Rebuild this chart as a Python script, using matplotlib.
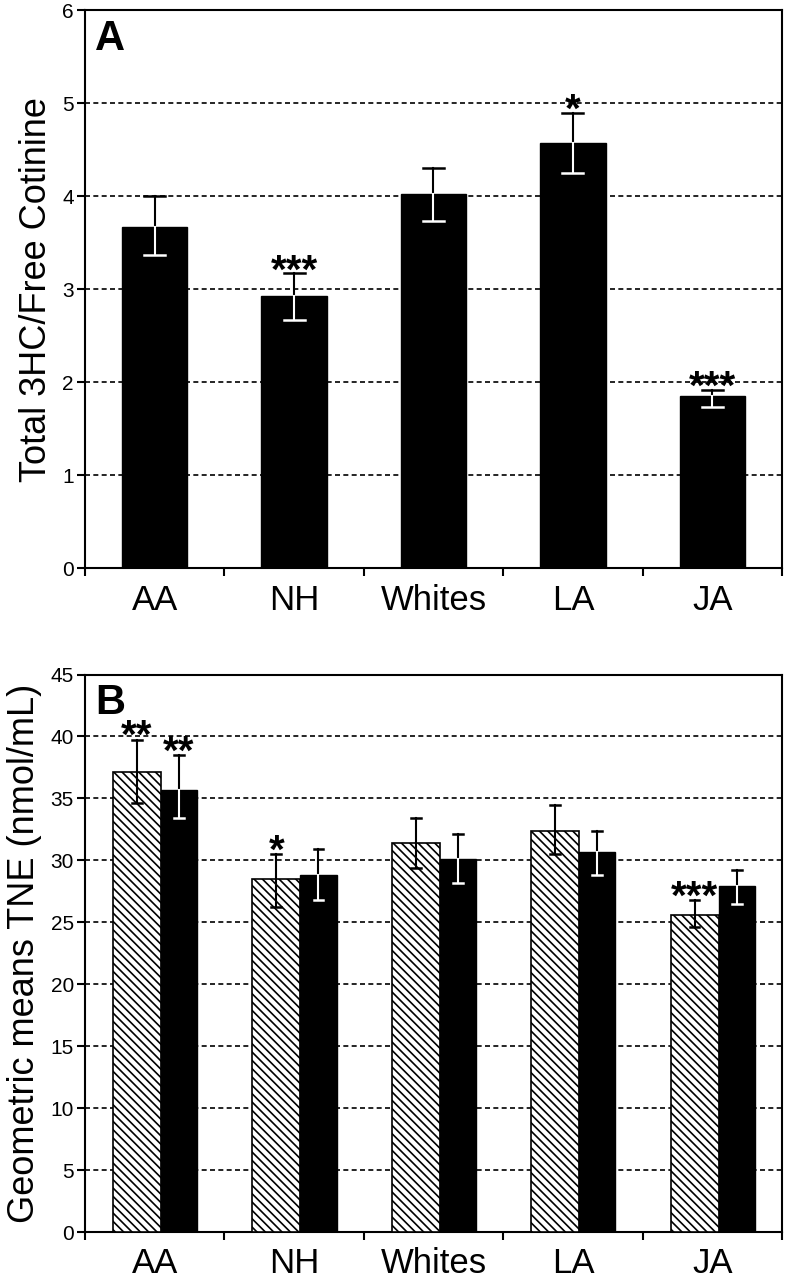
import numpy as np
import matplotlib
matplotlib.use("Agg")
import matplotlib.pyplot as plt

plt.rcParams["font.family"] = ["Liberation Sans", "DejaVu Sans"]
plt.rcParams["hatch.linewidth"] = 1.2

groups = ["AA", "NH", "Whites", "LA", "JA"]

# panel A: total 3HC / free cotinine
ratio_mean = [3.67, 2.93, 4.02, 4.57, 1.85]
ratio_low = [3.37, 2.67, 3.73, 4.25, 1.73]
ratio_high = [4.00, 3.17, 4.30, 4.90, 1.92]
ratio_marks = ["", "***", "", "*", "***"]

# panel B: geometric means TNE (hatched, solid)
tne_hatched = [37.1, 28.5, 31.4, 32.4, 25.6]
tne_hatched_low = [34.6, 26.2, 29.4, 30.5, 24.6]
tne_hatched_high = [39.75, 30.5, 33.4, 34.5, 26.8]
tne_hatched_marks = ["**", "*", "", "", "***"]
tne_solid = [35.7, 28.8, 30.1, 30.7, 27.9]
tne_solid_low = [33.4, 26.8, 28.2, 28.8, 26.5]
tne_solid_high = [38.5, 30.9, 32.1, 32.4, 29.2]
tne_solid_marks = ["**", "", "", "", ""]


def style_axis(ax, ymax, step, ylabel, letter):
    x = np.arange(len(groups))
    ax.set_xlim(-0.5, len(groups) - 0.5)
    ax.set_ylim(0, ymax)
    ax.set_yticks(np.arange(0, ymax + step / 2, step))
    ax.yaxis.grid(True, color="black", linestyle=(0, (3, 2)), linewidth=1.2)
    ax.set_axisbelow(True)
    ax.set_xticks(x)
    ax.set_xticklabels(groups, fontsize=25)
    ax.set_xticks(np.arange(-0.5, len(groups)), minor=True)
    ax.tick_params(axis="x", which="major", length=0, pad=11)
    ax.tick_params(axis="x", which="minor", length=6, width=1.5, direction="out")
    ax.tick_params(axis="y", length=6, width=1.5, direction="out", labelsize=15, pad=2)
    for spine in ax.spines.values():
        spine.set_linewidth(1.5)
    ax.set_ylabel(ylabel, fontsize=26, labelpad=6)
    ax.text(0.015, 0.985, letter, transform=ax.transAxes, fontsize=30,
            fontweight="bold", va="top", ha="left")


def draw_error(ax, xs, low, high, top, inner_color, cap):
    for xi, lo, hi, t in zip(xs, low, high, top):
        ax.plot([xi, xi], [t, hi], color="black", linewidth=1.5, zorder=4)
        ax.plot([xi - cap, xi + cap], [hi, hi], color="black", linewidth=1.8, zorder=4)
        ax.plot([xi, xi], [lo, t], color=inner_color, linewidth=1.5, zorder=4)
        ax.plot([xi - cap, xi + cap], [lo, lo], color=inner_color, linewidth=1.8, zorder=4)


def draw_marks(ax, xs, high, marks, offset):
    for xi, hi, m in zip(xs, high, marks):
        if m:
            ax.text(xi, hi + offset, m, ha="center", va="center",
                    fontsize=29, fontweight="bold", zorder=5)


fig = plt.figure(figsize=(7.86, 12.8), dpi=100)

ax_a = fig.add_axes([0.108, 0.556, 0.887, 0.436])
xa = np.arange(len(groups))
ax_a.bar(xa, ratio_mean, width=0.47, color="black", edgecolor="black", zorder=3)
draw_error(ax_a, xa, ratio_low, ratio_high, ratio_mean, "white", 0.075)
draw_marks(ax_a, xa, ratio_high, ratio_marks, 0.02)
style_axis(ax_a, 6, 1, "Total 3HC/Free Cotinine", "A")

ax_b = fig.add_axes([0.108, 0.0375, 0.887, 0.4355])
xb = np.arange(len(groups))
hatch_w = 0.345
solid_w = 0.26
x_h = xb - 0.3 + hatch_w / 2
x_s = x_h + hatch_w / 2 + solid_w / 2
ax_b.bar(x_h, tne_hatched, width=hatch_w, color="white", edgecolor="black",
         hatch="\\\\\\\\", linewidth=1.2, zorder=3)
ax_b.bar(x_s, tne_solid, width=solid_w, color="black", edgecolor="black", zorder=3)
draw_error(ax_b, x_h, tne_hatched_low, tne_hatched_high, tne_hatched, "black", 0.035)
draw_error(ax_b, x_s, tne_solid_low, tne_solid_high, tne_solid, "white", 0.035)
draw_marks(ax_b, x_h, tne_hatched_high, tne_hatched_marks, 0.2)
draw_marks(ax_b, x_s, tne_solid_high, tne_solid_marks, 0.2)
style_axis(ax_b, 45, 5, "Geometric means TNE (nmol/mL)", "B")

fig.savefig("out.png", dpi=100)
